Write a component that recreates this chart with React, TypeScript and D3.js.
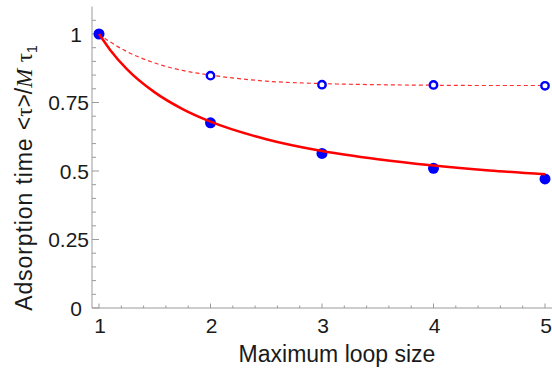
import React, { useRef, useEffect } from "react";
import * as d3 from "d3";

// Simulation points (maximum loop size -> normalised adsorption time)
const LOOP_SIZES = [1, 2, 3, 4, 5];
const TAU_FILLED = [1, 0.676, 0.564, 0.51, 0.471];
const TAU_OPEN = [1, 0.848, 0.815, 0.814, 0.811];

// Theory curves at these loop sizes
const CURVE_X = [1, 1.1, 1.25, 1.5, 1.75, 2, 2.5, 3, 3.5, 4, 4.5, 5];
const CURVE_SOLID = [1, 0.942, 0.872, 0.787, 0.726, 0.68, 0.616, 0.573, 0.543, 0.52, 0.502, 0.488];
const CURVE_DASHED = [1, 0.971, 0.936, 0.894, 0.867, 0.85, 0.828, 0.819, 0.815, 0.813, 0.812, 0.812];

const X_TICKS = [1, 2, 3, 4, 5];
const Y_TICKS = [0, 0.25, 0.5, 0.75, 1];
const Y_TICK_LABELS = ["0", "0.25", "0.5", "0.75", "1"];

const FONT = "'Liberation Sans', Arial, sans-serif";
const SERIF = "'Liberation Serif', 'Times New Roman', serif";

function AdsorptionChart() {
  const svgRef = useRef<SVGSVGElement>(null);

  useEffect(() => {
    const svg = d3.select(svgRef.current);
    const width = 552;
    const height = 370;
    svg.attr("width", width).attr("height", height);
    svg.selectAll("*").remove();

    const x = d3.scaleLinear().domain([1, 5]).range([99, 545]);
    const y = d3.scaleLinear().domain([0, 1]).range([308, 34]);

    const axisColor = "#9a9a9a";
    const x0 = 92;
    const y0 = 308;

    // Axes lines
    svg.append("line")
      .attr("x1", x0).attr("x2", x0)
      .attr("y1", y0).attr("y2", y(1.1))
      .attr("stroke", axisColor);
    svg.append("line")
      .attr("x1", x0).attr("x2", width)
      .attr("y1", y0).attr("y2", y0)
      .attr("stroke", axisColor);

    // y ticks (major + minor every 0.05)
    const yMinor = d3.range(0, 1.051, 0.05);
    svg.append("g").selectAll("line")
      .data(yMinor)
      .join("line")
      .attr("x1", x0)
      .attr("x2", d => (Math.abs((d * 4) - Math.round(d * 4)) < 1e-6 ? x0 + 7 : x0 + 4))
      .attr("y1", d => y(d)).attr("y2", d => y(d))
      .attr("stroke", axisColor);

    // x ticks (major + minor every 0.2)
    const xMinor = d3.range(1, 5.001, 0.2);
    svg.append("g").selectAll("line")
      .data(xMinor)
      .join("line")
      .attr("x1", d => x(d)).attr("x2", d => x(d))
      .attr("y1", y0)
      .attr("y2", d => (Math.abs(d - Math.round(d)) < 1e-6 ? y0 - 4.5 : y0 - 2.5))
      .attr("stroke", axisColor);

    // tick labels
    svg.append("g").selectAll("text")
      .data(X_TICKS)
      .join("text")
      .attr("x", d => x(d) + 1)
      .attr("y", 333)
      .attr("text-anchor", "middle")
      .style("font-family", FONT)
      .style("font-size", "21px")
      .attr("fill", "#1a1a1a")
      .text(d => String(d));

    svg.append("g").selectAll("text")
      .data(Y_TICKS)
      .join("text")
      .attr("x", (d, i) => (Y_TICK_LABELS[i].includes(".") ? 89 : 82))
      .attr("y", d => y(d))
      .attr("dy", "0.36em")
      .attr("text-anchor", "end")
      .style("font-family", FONT)
      .style("font-size", "21px")
      .attr("fill", "#1a1a1a")
      .text((d, i) => Y_TICK_LABELS[i]);

    // axis titles
    svg.append("text")
      .attr("x", 337)
      .attr("y", 362)
      .attr("text-anchor", "middle")
      .style("font-family", FONT)
      .style("font-size", "23px")
      .attr("fill", "#1a1a1a")
      .text("Maximum loop size");

    const yLabel = svg.append("text")
      .attr("transform", "translate(32,178) rotate(-90)")
      .attr("text-anchor", "middle")
      .style("font-family", FONT)
      .style("font-size", "23px")
      .attr("fill", "#1a1a1a");
    yLabel.append("tspan").style("letter-spacing", "0.9px").text("Adsorption time ");
    yLabel.append("tspan").text("<");
    yLabel.append("tspan").style("font-family", SERIF).text("τ");
    yLabel.append("tspan").text(">/");
    yLabel.append("tspan").style("font-family", SERIF).style("font-style", "italic").text("M");
    yLabel.append("tspan").text(" ");
    yLabel.append("tspan").style("font-family", SERIF).text("τ");
    yLabel.append("tspan").attr("dy", 5).style("font-size", "14px").text("1");

    const curvePts = (vals: number[]) => CURVE_X.map((cx, i) => [cx, vals[i]] as [number, number]);
    const line = d3.line<[number, number]>()
      .x(d => x(d[0]))
      .y(d => y(d[1]))
      .curve(d3.curveMonotoneX);

    // dashed curve
    svg.append("path")
      .attr("d", line(curvePts(CURVE_DASHED)))
      .attr("fill", "none")
      .attr("stroke", "#ff3030")
      .attr("stroke-width", 1.2)
      .attr("stroke-dasharray", "4,3");

    // open circles
    svg.append("g").selectAll("circle")
      .data(LOOP_SIZES)
      .join("circle")
      .attr("cx", d => x(d))
      .attr("cy", (d, i) => y(TAU_OPEN[i]))
      .attr("r", 3.7)
      .attr("fill", "#fff")
      .attr("stroke", "#0000ff")
      .attr("stroke-width", 2.4);

    // filled circles
    svg.append("g").selectAll("circle")
      .data(LOOP_SIZES)
      .join("circle")
      .attr("cx", d => x(d))
      .attr("cy", (d, i) => y(TAU_FILLED[i]))
      .attr("r", 5.5)
      .attr("fill", "#0000ff");

    // solid curve
    svg.append("path")
      .attr("d", line(curvePts(CURVE_SOLID)))
      .attr("fill", "none")
      .attr("stroke", "#ff0000")
      .attr("stroke-width", 2.5);
  }, []);

  return <svg ref={svgRef} style={{ position: "absolute", left: 0, top: 0 }}></svg>;
}

export default function App() {
  return <AdsorptionChart />;
}
